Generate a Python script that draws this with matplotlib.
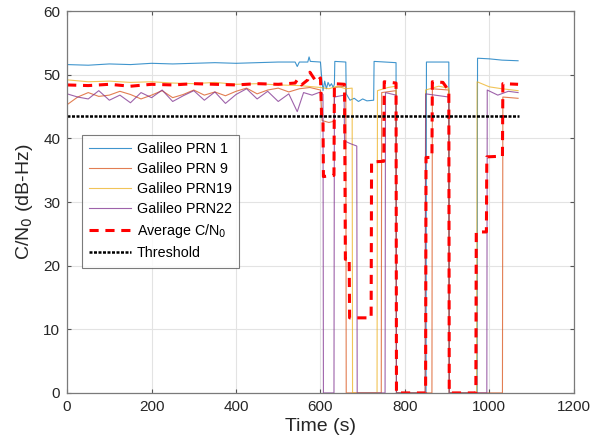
import numpy as np
import matplotlib.pyplot as plt

# ---- data ----
t_prn1 = [0, 50, 100, 150, 200, 250, 300, 350, 400, 450, 500, 540, 545, 550, 570, 573, 576, 600, 603,
          606, 610, 614, 618, 622, 626, 630, 633, 634, 660, 661, 670, 680, 690, 700, 710, 726, 727, 779, 780,
          850, 851, 904, 905, 971, 972, 1000, 1030, 1068]
v_prn1 = [51.6, 51.5, 51.7, 51.6, 51.8, 51.7, 51.8, 51.9, 51.8, 51.9, 52.0, 52.0, 51.3, 52.0, 52.0, 52.8, 52.1, 52.0, 49.5,
          47.5, 49.0, 47.8, 48.8, 48.2, 48.6, 48.0, 48.5, 52.1, 52.0, 47.0, 46.0, 46.3, 45.8, 46.2, 45.9, 46.0, 52.1, 51.9, 0,
          0, 52.0, 52.0, 0, 0, 52.6, 52.5, 52.3, 52.2]

t_prn9 = [0, 25, 50, 75, 100, 125, 150, 175, 200, 225, 250, 275, 300, 325, 350, 375, 400, 425, 450, 475,
          500, 525, 550, 575, 600, 604, 620, 632, 633, 660, 661, 744, 745, 779, 780, 864, 865, 904, 905,
          1031, 1032, 1050, 1068]
v_prn9 = [45.3, 46.5, 47.2, 46.6, 46.8, 47.4, 46.9, 46.2, 46.8, 47.5, 46.4, 46.9, 47.6, 46.8, 47.3, 46.7, 47.4, 47.9, 47.0, 47.6,
          47.9, 47.3, 47.8, 48.0, 47.6, 42.8, 42.5, 42.7, 48.0, 48.2, 0, 0, 47.2, 47.5, 0, 0, 47.8, 47.6, 0,
          0, 46.5, 46.4, 46.3]

t_prn19 = [0, 50, 100, 150, 200, 250, 300, 350, 400, 450, 500, 550, 600, 620, 640, 660, 675, 676, 734, 735,
           760, 779, 780, 848, 849, 880, 904, 905, 970, 971, 1000, 1030, 1068]
v_prn19 = [49.2, 48.9, 49.0, 48.8, 48.9, 48.7, 48.6, 48.8, 48.5, 48.6, 48.4, 48.3, 48.0, 47.8, 48.2, 47.8, 47.9, 0, 0, 47.5,
           48.0, 48.2, 0, 0, 47.6, 48.2, 47.9, 0, 0, 48.9, 48.1, 47.8, 47.5]

t_prn22 = [0, 25, 50, 75, 100, 125, 150, 175, 200, 225, 250, 275, 300, 325, 350, 375, 400, 425, 450, 475,
           500, 525, 545, 560, 580, 600, 606, 607, 632, 633, 656, 657, 670, 686, 687, 753, 754, 779, 780, 848,
           849, 904, 905, 994, 995, 1020, 1045, 1068]
v_prn22 = [47.0, 46.5, 46.2, 47.5, 46.0, 46.8, 45.6, 47.2, 46.4, 47.6, 45.8, 46.7, 47.5, 46.0, 47.3, 45.5, 46.9, 47.8, 46.2, 47.4,
           45.8, 47.0, 44.2, 47.2, 46.8, 47.3, 46.9, 0, 0, 46.5, 46.8, 39.6, 39.2, 38.8, 0, 0, 47.2, 46.8, 0, 0,
           47.0, 46.5, 0, 0, 47.6, 46.8, 47.4, 47.2]

t_avg = [0, 50, 100, 150, 200, 250, 300, 350, 400, 450, 500, 540, 545, 555, 570, 575, 590, 600, 603, 606,
         607, 632, 633, 657, 659, 668, 669, 720, 721, 750, 751, 779, 780, 849, 850, 864, 865, 890, 904, 905,
         968, 969, 993, 994, 1031, 1032, 1068]
v_avg = [48.4, 48.3, 48.5, 48.2, 48.5, 48.4, 48.6, 48.5, 48.4, 48.6, 48.5, 48.7, 49.2, 48.4, 49.2, 50.4, 48.9, 49.5, 43.0, 43.0,
         34.0, 34.2, 48.6, 48.5, 21.0, 21.2, 11.8, 11.8, 36.3, 36.4, 48.9, 48.7, 0, 0, 37.0, 37.0, 48.9, 48.8, 47.5, 0,
         0, 25.3, 25.3, 37.1, 37.2, 48.6, 48.5]

threshold = 43.5
t_thr = [0, 1070]

labels = ['Galileo PRN 1', 'Galileo PRN 9', 'Galileo PRN19', 'Galileo PRN22', 'Average C/N$_0$', 'Threshold']
colors = ['#0072BD', '#D95319', '#EDB120', '#7E2F8E']

plt.rcParams['font.family'] = ['Liberation Sans', 'DejaVu Sans']

fig = plt.figure(figsize=(5.94, 4.45), dpi=100)
ax = fig.add_axes([0.113, 0.117, 0.853, 0.858])

series = [(t_prn1, v_prn1), (t_prn9, v_prn9), (t_prn19, v_prn19), (t_prn22, v_prn22)]
for (t, v), c, lab in zip(series, colors, labels[:4]):
    ax.plot(t, v, color=c, lw=0.8, alpha=0.75, label=lab)

ax.plot(t_avg, v_avg, color='red', lw=2.2, ls=(0, (3, 2.2)), label=labels[4])
ax.plot(t_thr, [threshold, threshold], color='black', lw=1.8, ls=(0, (1.2, 0.6)), label=labels[5])

ax.set_xlim(0, 1200)
ax.set_ylim(0, 60)
ax.set_xticks(np.arange(0, 1201, 200))
ax.set_yticks(np.arange(0, 61, 10))
ax.grid(True, color='#e3e3e3', lw=0.8)
ax.set_axisbelow(True)
ax.tick_params(direction='in', length=3, labelsize=11, pad=5, top=True, right=True,
               color='#555555', labelcolor='#262626')
for s in ax.spines.values():
    s.set_color('#7a7a7a')
    s.set_linewidth(0.9)

ax.set_xlabel('Time (s)', fontsize=14, color='#262626', labelpad=3)
ax.set_ylabel('C/N$_0$ (dB-Hz)', fontsize=14, color='#262626', labelpad=6)

leg = ax.legend(loc='upper left', bbox_to_anchor=(0.03, 0.675), fontsize=10.3, frameon=True,
                fancybox=False, edgecolor='#5a5a5a', handlelength=2.9, handletextpad=0.4,
                borderpad=0.5, labelspacing=0.42, borderaxespad=0)
leg.get_frame().set_linewidth(0.8)

fig.savefig('out.png', dpi=100)
